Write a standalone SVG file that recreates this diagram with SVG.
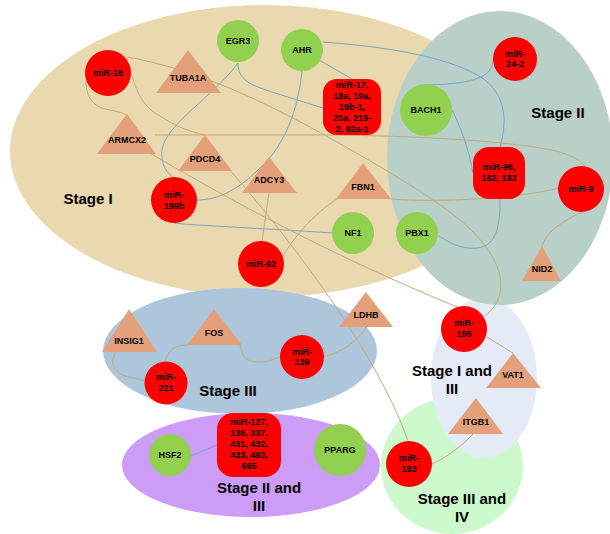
<svg xmlns="http://www.w3.org/2000/svg" width="610" height="534" viewBox="0 0 610 534">
<style>
.lbl{font-family:"Liberation Sans",Arial,sans-serif;font-weight:bold;font-size:9px;fill:#000;text-anchor:middle}
.stage{font-family:"Liberation Sans",Arial,sans-serif;font-weight:bold;font-size:15px;fill:#000;text-anchor:middle}
.gn{fill:#92D050}
.rd{fill:#FF0000}
.tr{fill:#E4A07A}
.ct{fill:none;stroke:#C4AA78;stroke-width:1}
.cb{fill:none;stroke:#78A8C8;stroke-width:1}
</style>
<rect width="610" height="534" fill="#FFFFFF"/>
<g id="regions">
<ellipse id="stage-I" cx="265" cy="151" rx="255" ry="146" fill="#EAD8AE"/>
<ellipse id="stage-II-III" cx="251" cy="465" rx="129" ry="52" fill="#CD9CF7"/>
<ellipse id="stage-III" cx="240" cy="351" rx="137" ry="63" fill="#ADC6DC"/>
<ellipse id="stage-III-IV" cx="452" cy="466" rx="71" ry="68" fill="#CCFACC"/>
<ellipse id="stage-I-III" cx="484" cy="378" rx="53" ry="80" fill="#E4EBF6"/>
<ellipse id="stage-II" cx="500" cy="158" rx="113" ry="147" fill="#B9D0C9"/>
<text class="stage" x="88" y="204">Stage I</text>
<text class="stage" x="558" y="118">Stage II</text>
<text class="stage" x="228" y="396">Stage III</text>
<text class="stage" x="259" y="493">Stage II and</text>
<text class="stage" x="259" y="511">III</text>
<text class="stage" x="452" y="376">Stage I and</text>
<text class="stage" x="452" y="394">III</text>
<text class="stage" x="462" y="504">Stage III and</text>
<text class="stage" x="462" y="522">IV</text>
</g>
<g id="connectors">
<path class="cb" d="M238,63 C215,95 165,125 162,150 C160,165 168,174 174,178"/>
<path class="cb" d="M238,63 C238,80 250,85 275,93 L323,108"/>
<path class="cb" d="M302,71 C298,110 285,145 260,168 C240,188 220,200 197,200"/>
<path class="cb" d="M323,42 C390,47 455,58 485,80 C510,100 505,130 500,147"/>
<path class="cb" d="M319,60 L352,79"/>
<path class="cb" d="M427,85 C455,84 478,82 488,72 C492,68 493,64 493,60"/>
<path class="cb" d="M452,110 C460,125 469,150 473,173"/>
<path class="cb" d="M500,199 C500,225 497,245 478,248 C462,250 448,242 439,236"/>
<path class="cb" d="M174,223 C200,226 260,228 332,233"/>
<path class="cb" d="M191,456 L217,445"/>
<path class="ct" d="M127,57 C190,68 250,95 310,127 C370,160 430,195 460,220 C505,258 512,295 485,316"/>
<path class="ct" d="M86,78 C85,95 92,106 105,109 C115,111 122,112 126,115"/>
<path class="ct" d="M132,75 C137,95 145,108 160,116 C175,126 190,132 205,135"/>
<path class="ct" d="M155,135 L330,135 C430,136 520,142 560,152 C575,157 583,162 585,167"/>
<path class="ct" d="M148,152 C230,200 330,255 462,309"/>
<path class="ct" d="M228,168 C300,250 380,360 408,441"/>
<path class="ct" d="M269,193 L262,241"/>
<path class="ct" d="M337,199 C320,210 300,228 283,256"/>
<path class="ct" d="M391,199 C440,203 520,198 559,188"/>
<path class="ct" d="M582,212 C570,218 548,228 542,246"/>
<path class="ct" d="M487,337 L513,353"/>
<path class="ct" d="M473,434 C460,448 445,458 432,464"/>
<path class="ct" d="M366,327 C355,345 340,352 323,357"/>
<path class="ct" d="M240,345 C242,355 244,362 260,362 C270,362 275,358 281,357"/>
<path class="ct" d="M188,345 C175,345 170,350 168,355 C166,358 165,360 165,362"/>
<path class="ct" d="M116,352 C110,360 112,372 125,376 C135,378 140,380 145,381"/>
</g>
<g id="EGR3"><circle class="gn" cx="238" cy="41" r="21"/><text class="lbl" x="238" y="44">EGR3</text></g>
<g id="AHR"><circle class="gn" cx="302" cy="50" r="21"/><text class="lbl" x="302" y="53">AHR</text></g>
<g id="BACH1"><circle class="gn" cx="426" cy="110" r="26"/><text class="lbl" x="426" y="113">BACH1</text></g>
<g id="NF1"><circle class="gn" cx="353" cy="233" r="21"/><text class="lbl" x="353" y="236">NF1</text></g>
<g id="PBX1"><circle class="gn" cx="417" cy="233" r="21"/><text class="lbl" x="417" y="236">PBX1</text></g>
<g id="HSF2"><circle class="gn" cx="170" cy="455" r="21"/><text class="lbl" x="170" y="458">HSF2</text></g>
<g id="PPARG"><circle class="gn" cx="340" cy="450" r="26"/><text class="lbl" x="340" y="453">PPARG</text></g>
<g id="miR-16"><circle class="rd" cx="108" cy="73" r="23"/><text class="lbl" x="108" y="76">miR-16</text></g>
<g id="miR-24-2"><circle class="rd" cx="515" cy="59" r="22"/><text class="lbl" x="515" y="57">miR-</text><text class="lbl" x="515" y="67">24-2</text></g>
<g id="miR-17"><rect class="rd" x="323" y="79" width="58" height="56" rx="14"/><text class="lbl" x="352" y="88">miR-17,</text><text class="lbl" x="352" y="99">18a, 19a,</text><text class="lbl" x="352" y="110">19b-1,</text><text class="lbl" x="352" y="121">20a, 219-</text><text class="lbl" x="352" y="132">2, 92a-1</text></g>
<g id="miR-96"><rect class="rd" x="473" y="147" width="52" height="52" rx="16"/><text class="lbl" x="499" y="170">miR-96,</text><text class="lbl" x="499" y="181">182, 183</text></g>
<g id="miR-9"><circle class="rd" cx="581" cy="189" r="23"/><text class="lbl" x="581" y="192">miR-9</text></g>
<g id="miR-199b"><circle class="rd" cx="174" cy="200" r="23"/><text class="lbl" x="174" y="198">miR-</text><text class="lbl" x="174" y="209">199b</text></g>
<g id="miR-92"><circle class="rd" cx="261" cy="264" r="23"/><text class="lbl" x="261" y="267">miR-92</text></g>
<g id="miR-139"><circle class="rd" cx="302" cy="357" r="22"/><text class="lbl" x="302" y="355">miR-</text><text class="lbl" x="302" y="365">139</text></g>
<g id="miR-221"><circle class="rd" cx="166" cy="383" r="21.5"/><text class="lbl" x="166" y="380">miR-</text><text class="lbl" x="166" y="391">221</text></g>
<g id="miR-195"><circle class="rd" cx="464" cy="329" r="23"/><text class="lbl" x="464" y="326">miR-</text><text class="lbl" x="464" y="337">195</text></g>
<g id="miR-183"><circle class="rd" cx="409" cy="464" r="23"/><text class="lbl" x="409" y="461">miR-</text><text class="lbl" x="409" y="472">183</text></g>
<g id="miR-127"><rect class="rd" x="217" y="413" width="64" height="64" rx="16"/><text class="lbl" x="249" y="425">miR-127,</text><text class="lbl" x="249" y="436">136, 337,</text><text class="lbl" x="249" y="447">431, 432,</text><text class="lbl" x="249" y="458">433, 493,</text><text class="lbl" x="249" y="469">665</text></g>
<g id="TUBA1A"><polygon class="tr" points="188,50 221,93 156,93"/><text class="lbl" x="188" y="81">TUBA1A</text></g>
<g id="ARMCX2"><polygon class="tr" points="127,114 156,154 97,154"/><text class="lbl" x="127" y="143">ARMCX2</text></g>
<g id="PDCD4"><polygon class="tr" points="205,135 232,171 178,171"/><text class="lbl" x="205" y="162">PDCD4</text></g>
<g id="ADCY3"><polygon class="tr" points="269,157 297,193 242,193"/><text class="lbl" x="269" y="183">ADCY3</text></g>
<g id="FBN1"><polygon class="tr" points="363,163 391,199 336,199"/><text class="lbl" x="363" y="190">FBN1</text></g>
<g id="NID2"><polygon class="tr" points="542,246 561,281 522,281"/><text class="lbl" x="542" y="272">NID2</text></g>
<g id="LDHB"><polygon class="tr" points="366,292 393,327 339,327"/><text class="lbl" x="366" y="318">LDHB</text></g>
<g id="INSIG1"><polygon class="tr" points="129,309 157,352 102,352"/><text class="lbl" x="129" y="344">INSIG1</text></g>
<g id="FOS"><polygon class="tr" points="214,309 242,345 187,345"/><text class="lbl" x="214" y="336">FOS</text></g>
<g id="VAT1"><polygon class="tr" points="513,353 541,388 486,388"/><text class="lbl" x="513" y="378">VAT1</text></g>
<g id="ITGB1"><polygon class="tr" points="476,398 503,434 448,434"/><text class="lbl" x="476" y="425">ITGB1</text></g>
</svg>
